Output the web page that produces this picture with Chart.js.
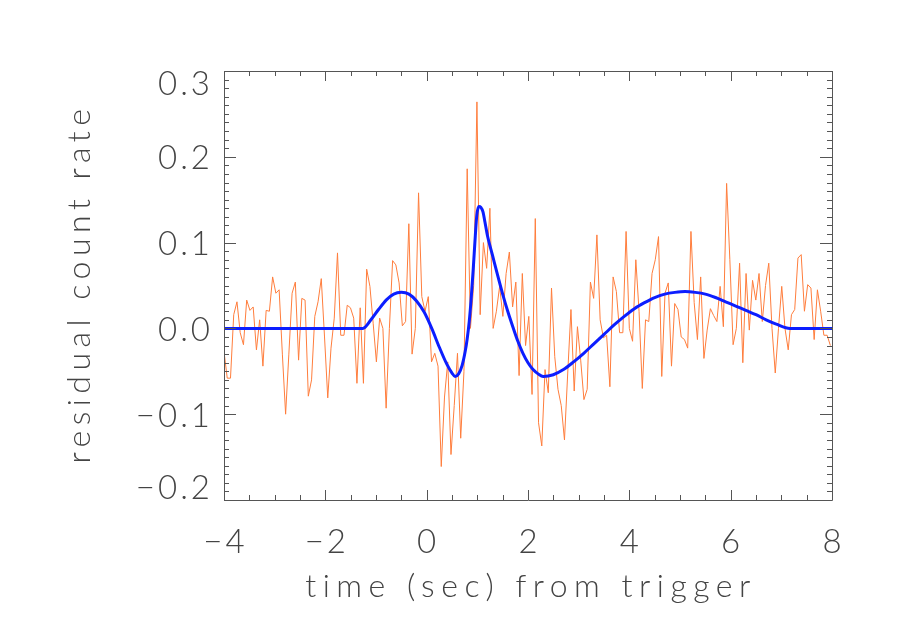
<!DOCTYPE html>
<html>
<head>
<meta charset="utf-8">
<script src="https://cdn.jsdelivr.net/npm/chart.js@4.4.1/dist/chart.umd.min.js"></script>
<style>
  body { margin: 0; background: #fff; }
  canvas { display: block; }
</style>
</head>
<body>
<canvas id="residualChart" width="900" height="643"></canvas>
<script>
// Residual count rate, 64 ms bins starting at t = -4 s
const binStart = -4;
const binWidth = 0.064;
const residuals = [
  -0.027, -0.058, -0.058, 0.016, 0.031, -0.005, -0.019, 0.033, 0.021, 0.025,
  -0.025, 0.010, -0.044, 0.021, 0.020, 0.060, 0.041, 0.045, -0.030, -0.100,
  -0.030, 0.041, 0.054, -0.037, 0.035, 0.033, -0.079, -0.060, 0.014, 0.031,
  0.058, -0.010, -0.081, -0.023, 0.012, 0.088, -0.008, -0.008, 0.027, 0.024,
  0.012, -0.064, 0.024, -0.064, 0.069, 0.049, 0.006, -0.039, 0.012, 0.000,
  -0.093, 0.000, 0.079, 0.074, 0.053, 0.003, 0.008, 0.122, -0.030, 0.000,
  0.158, 0.037, 0.020, 0.037, -0.039, -0.029, -0.044, -0.161, -0.080, -0.039,
  -0.147, -0.090, -0.029, -0.128, -0.050, 0.186, 0.000, 0.050, 0.264, 0.016,
  0.100, 0.070, 0.140, 0.000, 0.020, 0.049, 0.014, 0.064, 0.089, 0.025,
  0.054, -0.055, 0.064, -0.020, 0.014, -0.077, 0.128, -0.110, -0.137, -0.048,
  -0.075, 0.047, -0.033, -0.071, -0.090, -0.130, -0.052, 0.022, -0.073, 0.002,
  -0.037, -0.083, -0.071, 0.054, 0.035, 0.109, 0.010, -0.011, -0.008, -0.068,
  0.060, 0.043, -0.005, -0.005, 0.113, 0.000, -0.015, 0.080, 0.020, -0.070,
  0.010, 0.008, 0.064, 0.080, 0.107, -0.056, 0.041, 0.053, -0.044, 0.029,
  0.022, -0.010, -0.013, -0.023, 0.113, 0.030, -0.013, 0.060, -0.035, -0.002,
  0.023, 0.015, 0.008, 0.049, 0.002, 0.169, 0.080, -0.019, 0.000, 0.076,
  -0.040, 0.064, -0.002, 0.056, 0.033, 0.064, 0.008, 0.050, 0.076, 0.000,
  -0.052, 0.000, 0.049, 0.000, -0.025, 0.016, 0.022, 0.082, 0.086, 0.020,
  0.051, 0.047, -0.013, 0.045, 0.020, -0.008, -0.008, -0.020
];

// Smooth model curve
const modelTimes = [-4, -1.26, -1.1, -0.95, -0.8, -0.65, -0.5, -0.35, -0.2, -0.05,
  0.1, 0.25, 0.4, 0.5, 0.56, 0.63, 0.7, 0.76, 0.8, 0.84,
  0.88, 0.92, 0.96, 0.99, 1.03, 1.07, 1.11, 1.15, 1.2, 1.3,
  1.4, 1.5, 1.6, 1.7, 1.8, 1.9, 2.0, 2.1, 2.2, 2.3,
  2.5, 2.7, 2.9, 3.1, 3.3, 3.5, 3.7, 3.9, 4.1, 4.3,
  4.5, 4.7, 4.9, 5.1, 5.3, 5.5, 5.7, 5.9, 6.1, 6.3,
  6.5, 6.7, 6.9, 7.17, 8];
const modelValues = [0, 0, 0.010, 0.022, 0.033, 0.040, 0.042, 0.040, 0.032, 0.019,
  0.000, -0.022, -0.042, -0.052, -0.056, -0.053, -0.043, -0.027, -0.012, 0.008,
  0.036, 0.070, 0.108, 0.132, 0.142, 0.141, 0.136, 0.124, 0.108, 0.085,
  0.062, 0.040, 0.020, 0.002, -0.015, -0.029, -0.040, -0.048, -0.053, -0.056,
  -0.054, -0.048, -0.039, -0.029, -0.018, -0.007, 0.004, 0.014, 0.023, 0.030,
  0.036, 0.040, 0.042, 0.043, 0.042, 0.040, 0.036, 0.031, 0.026, 0.021,
  0.016, 0.010, 0.005, 0, 0];

// Axis ticks and titles
const xTicks = [-4, -2, 0, 2, 4, 6, 8];
const xTickLabels = ['\u22124', '\u22122', '0', '2', '4', '6', '8'];
const yTicks = [-0.2, -0.1, 0.0, 0.1, 0.2, 0.3];
const yTickLabels = ['\u22120.2', '\u22120.1', '0.0', '0.1', '0.2', '0.3'];
const xTitle = 'time (sec) from trigger';
const yTitle = 'residual count rate';

const axisColor = '#555';
const textColor = '#444';
const labelFont = '300 33px Lato, "DejaVu Sans", sans-serif';
const titleFont = '300 32px Lato, "DejaVu Sans", sans-serif';

// IDL style box with inward ticks on all four sides
const idlFrame = {
  id: 'idlFrame',
  afterDatasetsDraw(chart) {
    const { ctx, chartArea: a, scales: { x, y } } = chart;
    ctx.save();
    ctx.strokeStyle = axisColor;
    ctx.lineWidth = 1;
    ctx.beginPath();
    ctx.rect(a.left + 0.5, a.top + 0.5, a.right - a.left, a.bottom - a.top);
    ctx.stroke();

    ctx.beginPath();
    // x ticks: minor every 0.5, major every 2
    for (let k = 0; k <= 24; k++) {
      const px = Math.round(x.getPixelForValue(-4 + k * 0.5)) + 0.5;
      const len = k % 4 === 0 ? 10 : 5;
      ctx.moveTo(px, a.bottom); ctx.lineTo(px, a.bottom - len);
      ctx.moveTo(px, a.top); ctx.lineTo(px, a.top + len);
    }
    // y ticks: minor every 0.01, major every 0.1
    for (let k = 0; k <= 50; k++) {
      const py = Math.round(y.getPixelForValue(-0.2 + k * 0.01)) + 0.5;
      const len = k % 10 === 0 ? 12 : 5;
      ctx.moveTo(a.left, py); ctx.lineTo(a.left + len, py);
      ctx.moveTo(a.right, py); ctx.lineTo(a.right - len, py);
    }
    ctx.stroke();

    ctx.fillStyle = textColor;
    ctx.font = labelFont;
    ctx.letterSpacing = '3px';
    ctx.textBaseline = 'middle';
    ctx.textAlign = 'center';
    xTicks.forEach((v, i) => {
      ctx.fillText(xTickLabels[i], x.getPixelForValue(v) + 1.5, 542);
    });
    ctx.textAlign = 'right';
    yTicks.forEach((v, i) => {
      const py = Math.min(Math.max(y.getPixelForValue(v) + 2, a.top + 13), a.bottom - 12);
      ctx.fillText(yTickLabels[i], 213, py);
    });

    ctx.font = titleFont;
    ctx.letterSpacing = '6.5px';
    ctx.textBaseline = 'alphabetic';
    ctx.textAlign = 'center';
    ctx.fillText(xTitle, (a.left + a.right) / 2 + 3, 597);
    ctx.letterSpacing = '5.5px';
    ctx.translate(90, (a.top + a.bottom) / 2 - 2);
    ctx.rotate(-Math.PI / 2);
    ctx.fillText(yTitle, 0, 0);
    ctx.restore();
  }
};

new Chart(document.getElementById('residualChart'), {
  type: 'line',
  data: {
    datasets: [
      {
        label: 'model',
        data: modelTimes.map((t, i) => ({ x: t, y: modelValues[i] })),
        borderColor: 'rgb(12, 30, 255)',
        borderWidth: 3,
        pointRadius: 0,
        cubicInterpolationMode: 'monotone',
        order: 0
      },
      {
        label: 'residuals',
        data: residuals.map((v, i) => ({ x: binStart + i * binWidth, y: v })),
        borderColor: 'rgb(255, 125, 60)',
        borderWidth: 1,
        pointRadius: 0,
        tension: 0,
        order: 1
      }
    ]
  },
  options: {
    responsive: false,
    animation: false,
    layout: { padding: { left: 224, right: 68, top: 71, bottom: 143 } },
    plugins: { legend: { display: false }, tooltip: { enabled: false } },
    scales: {
      x: { type: 'linear', min: -4, max: 8, display: false },
      y: { min: -0.2, max: 0.3, display: false }
    }
  },
  plugins: [idlFrame]
});
</script>
</body>
</html>
